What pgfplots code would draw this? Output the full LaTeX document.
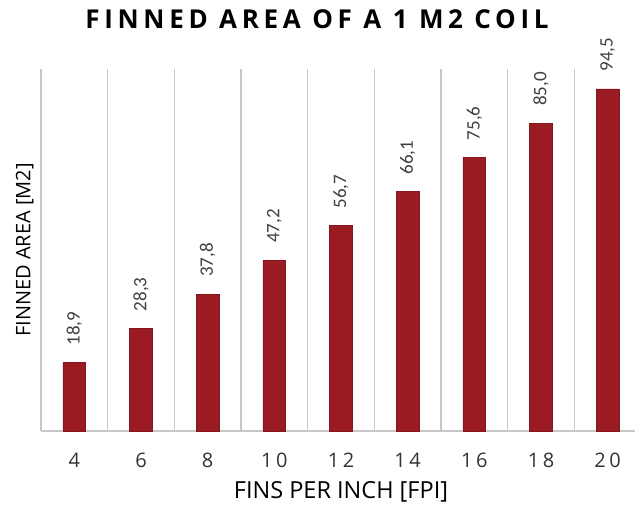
\documentclass[border=0pt]{standalone}
\usepackage{pgfplots}
\pgfplotsset{compat=1.18}
\usepackage{fontspec}
\setmainfont{Open Sans}
\newfontfamily\titlefont[LetterSpace=18]{Open Sans}
\newfontfamily\tickfont[LetterSpace=18]{Open Sans}
\newfontfamily\valuefont{Carlito}
\definecolor{barred}{RGB}{155,27,34}
\definecolor{gridgray}{RGB}{200,200,200}
\definecolor{labelgray}{RGB}{64,64,64}

\pgfplotstableread{
x fpi area
0 4  18.9
1 6  28.3
2 8  37.8
3 10 47.2
4 12 56.7
5 14 66.1
6 16 75.6
7 18 85.0
8 20 94.5
}\finneddata

\begin{document}
\begin{tikzpicture}[x=1pt,y=1pt]
\useasboundingbox (0,0) rectangle (635,506);
\begin{axis}[
  at={(41pt,75pt)}, anchor=south west,
  scale only axis,
  width=600pt, height=362pt,
  xmin=-0.5, xmax=8.5, ymin=0, ymax=100,
  axis x line*=bottom, axis y line*=left,
  axis line style={gridgray, line width=1.5pt, -},
  ytick=\empty,
  xtick={0,...,8},
  xticklabels={4,6,8,10,12,14,16,18,20},
  major tick length=0pt, minor tick length=0pt,
  minor xtick={0.5,1.5,...,8.5},
  xminorgrids,
  minor grid style={gridgray, line width=1.5pt},
  xticklabel style={font=\tickfont\fontsize{20}{24}\selectfont, text=labelgray!80!black, anchor=center, yshift=-29pt},
  xlabel={FINS PER INCH [FPI]},
  xlabel style={font=\fontsize{23.5}{26}\selectfont, text=black, at={(axis description cs:0.5,-0.168)}, anchor=center},
  ylabel={FINNED AREA [M2]},
  ylabel style={font=\fontsize{20}{23}\selectfont, text=black, at={(axis description cs:-0.027,0.5)}, anchor=center, rotate=0},
  title={FINNED AREA OF A 1 M2 COIL},
  title style={font=\titlefont\bfseries\fontsize{26}{30}\selectfont, at={(axis description cs:0.46,1.122)}, anchor=center},
  nodes near coords,
  nodes near coords style={font=\valuefont\fontsize{19}{22}\selectfont, text=labelgray, rotate=90, anchor=west, inner xsep=17pt, inner ysep=0pt,
    /pgf/number format/.cd, fixed, fixed zerofill, precision=1, use comma, assume math mode=true},
  clip=false,
]
\addplot[ybar, bar width=22.7pt, fill=barred, draw=barred!85!black, line width=0.6pt] table[x=x, y=area] {\finneddata};
\end{axis}
\end{tikzpicture}
\end{document}
